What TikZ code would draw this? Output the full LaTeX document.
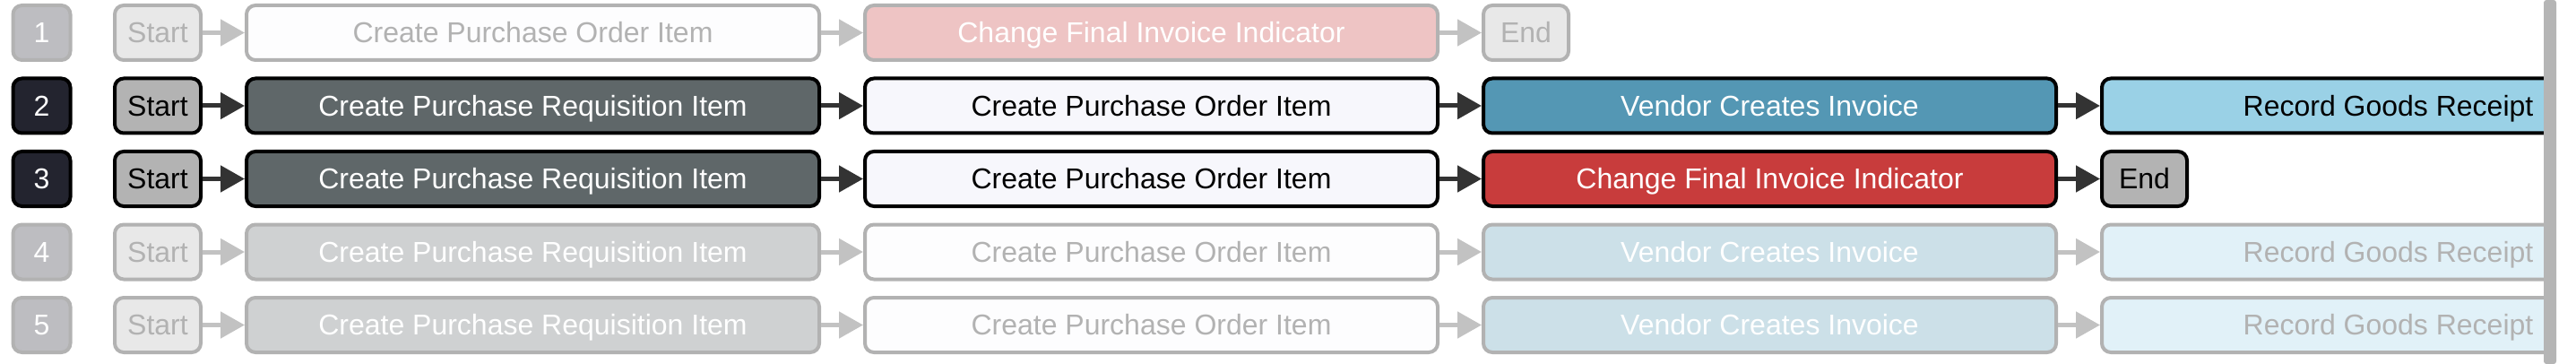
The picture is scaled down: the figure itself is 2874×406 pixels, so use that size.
\documentclass[tikz,border=0pt]{standalone}
\usepackage{fontspec}
\setmainfont{Liberation Sans}
\usepackage{xcolor}
\usepackage{tikz}
\usetikzlibrary{arrows.meta,positioning}

\definecolor{numfill}{HTML}{23242F}
\definecolor{endgray}{HTML}{B3B3B3}
\definecolor{reqgray}{HTML}{5F6769}
\definecolor{ordwhite}{HTML}{F7F7FC}
\definecolor{invblue}{HTML}{5497B4}
\definecolor{rcptblue}{HTML}{9AD1E6}
\definecolor{chgred}{HTML}{C83C3C}
\definecolor{arrowdark}{HTML}{333333}
\definecolor{bargray}{HTML}{B5B5B5}

\begin{document}
\begin{tikzpicture}[
  x=1pt, y=1pt,
  node distance=47pt,
  base/.style={rounded corners=10pt, line width=4pt, outer sep=2pt, inner sep=0pt,
    minimum height=61pt, text height=22.5pt, text depth=0pt,
    font=\fontsize{32}{38}\selectfont},
  wide/.style={base, minimum width=639pt},
  numbox/.style={base, minimum width=64pt, fill=numfill!#1, draw=black!#1, text=white},
  endpt/.style={base, minimum width=96pt, fill=endgray!#1, draw=black!#1, text=black!#1},
  reqbox/.style={wide, fill=reqgray!#1, draw=black!#1, text=white},
  ordbox/.style={wide, fill=ordwhite!#1, draw=black!#1, text=black!#1},
  invbox/.style={wide, fill=invblue!#1, draw=black!#1, text=white},
  rcptbox/.style={wide, fill=rcptblue!#1, draw=black!#1, text=black!#1},
  chgbox/.style={wide, fill=chgred!#1, draw=black!#1, text=white},
  arrow/.style={draw=arrowdark!#1, line width=5pt, -{Triangle[length=27pt, width=29pt]}}
]
\useasboundingbox (0,0) rectangle (2874,-406);

\begin{scope}
\clip (0,0) rectangle (2838,-406);

% row 1 (faded)
\node[numbox=30] (n1) at (46.5,-36.5) {1};
\node[endpt=30, right=45.5pt of n1] (s1) {Start};
\node[ordbox=30, right=of s1] (o1) {Create Purchase Order Item};
\node[chgbox=30, right=of o1] (c1) {Change Final Invoice Indicator};
\node[endpt=30, minimum width=95pt, right=of c1] (e1) {End};

% row 2
\node[numbox=100] (n2) at (46.5,-118) {2};
\node[endpt=100, right=45.5pt of n2] (s2) {Start};
\node[reqbox=100, right=of s2] (q2) {Create Purchase Requisition Item};
\node[ordbox=100, right=of q2] (o2) {Create Purchase Order Item};
\node[invbox=100, right=of o2] (v2) {Vendor Creates Invoice};
\node[rcptbox=100, right=of v2] (r2) {Record Goods Receipt};

% row 3
\node[numbox=100] (n3) at (46.5,-199.5) {3};
\node[endpt=100, right=45.5pt of n3] (s3) {Start};
\node[reqbox=100, right=of s3] (q3) {Create Purchase Requisition Item};
\node[ordbox=100, right=of q3] (o3) {Create Purchase Order Item};
\node[chgbox=100, right=of o3] (c3) {Change Final Invoice Indicator};
\node[endpt=100, minimum width=95pt, right=of c3] (e3) {End};

% row 4 (faded)
\node[numbox=30] (n4) at (46.5,-281) {4};
\node[endpt=30, right=45.5pt of n4] (s4) {Start};
\node[reqbox=30, right=of s4] (q4) {Create Purchase Requisition Item};
\node[ordbox=30, right=of q4] (o4) {Create Purchase Order Item};
\node[invbox=30, right=of o4] (v4) {Vendor Creates Invoice};
\node[rcptbox=30, right=of v4] (r4) {Record Goods Receipt};

% row 5 (faded)
\node[numbox=30] (n5) at (46.5,-362.5) {5};
\node[endpt=30, right=45.5pt of n5] (s5) {Start};
\node[reqbox=30, right=of s5] (q5) {Create Purchase Requisition Item};
\node[ordbox=30, right=of q5] (o5) {Create Purchase Order Item};
\node[invbox=30, right=of o5] (v5) {Vendor Creates Invoice};
\node[rcptbox=30, right=of v5] (r5) {Record Goods Receipt};

\draw[arrow=30] (s1) -- (o1);
\draw[arrow=30] (o1) -- (c1);
\draw[arrow=30] (c1) -- (e1);

\draw[arrow=100] (s2) -- (q2);
\draw[arrow=100] (q2) -- (o2);
\draw[arrow=100] (o2) -- (v2);
\draw[arrow=100] (v2) -- (r2);

\draw[arrow=100] (s3) -- (q3);
\draw[arrow=100] (q3) -- (o3);
\draw[arrow=100] (o3) -- (c3);
\draw[arrow=100] (c3) -- (e3);

\foreach \r in {4,5} {
  \draw[arrow=30] (s\r) -- (q\r);
  \draw[arrow=30] (q\r) -- (o\r);
  \draw[arrow=30] (o\r) -- (v\r);
  \draw[arrow=30] (v\r) -- (r\r);
}
\end{scope}

% scroll bar at the right edge
\fill[bargray, rounded corners=3pt] (2838,0) rectangle (2852,-406);
\end{tikzpicture}
\end{document}
